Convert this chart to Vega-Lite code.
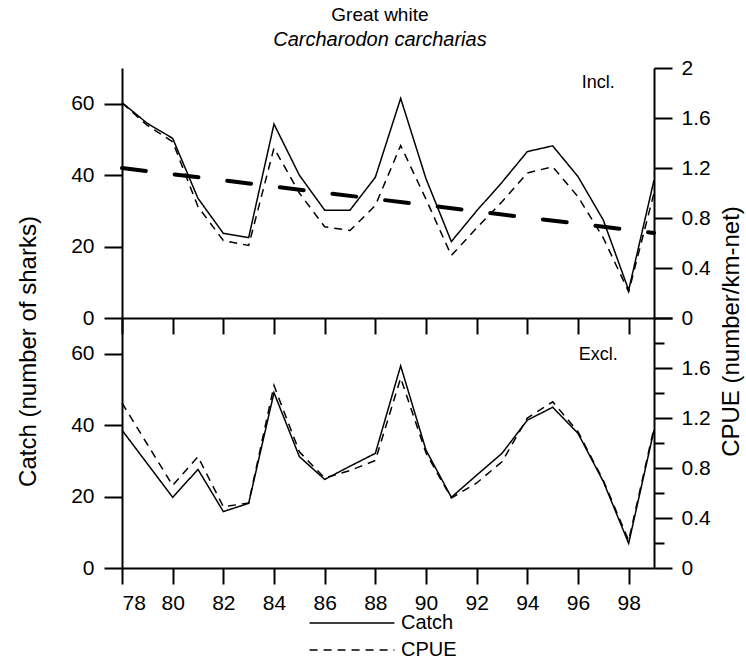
{
  "$schema": "https://vega.github.io/schema/vega-lite/v6.json",
  "background": "white",
  "padding": {"left": 16, "top": 6, "right": 2, "bottom": 2},
  "title": {
    "text": "Great white",
    "subtitle": "Carcharodon carcharias",
    "anchor": "middle",
    "font": "Liberation Sans",
    "fontSize": 19,
    "fontWeight": "normal",
    "color": "black",
    "subtitleFont": "Liberation Sans",
    "subtitleFontSize": 20,
    "subtitleFontStyle": "italic",
    "subtitleColor": "black",
    "subtitlePadding": 5,
    "offset": 7
  },
  "config": {
    "view": {"stroke": null},
    "font": "Liberation Sans",
    "axis": {
      "grid": false,
      "domainColor": "black",
      "domainWidth": 2,
      "tickColor": "black",
      "tickWidth": 2,
      "labelColor": "black",
      "labelFont": "Liberation Sans",
      "labelFontSize": 21,
      "titleFont": "Liberation Sans",
      "titleFontSize": 24,
      "titleFontWeight": "normal",
      "titleColor": "black"
    }
  },
  "datasets": {
    "incl": [
      {"year": 78, "catch": 60.3, "cpue": 1.72},
      {"year": 79, "catch": 54.5, "cpue": 1.54},
      {"year": 80, "catch": 50.3, "cpue": 1.41},
      {"year": 81, "catch": 33.5, "cpue": 0.89},
      {"year": 82, "catch": 23.7, "cpue": 0.62},
      {"year": 83, "catch": 22.5, "cpue": 0.58},
      {"year": 84, "catch": 54.3, "cpue": 1.36},
      {"year": 85, "catch": 40.0, "cpue": 1.0},
      {"year": 86, "catch": 30.2, "cpue": 0.73},
      {"year": 87, "catch": 30.2, "cpue": 0.70},
      {"year": 88, "catch": 39.4, "cpue": 0.90},
      {"year": 89, "catch": 61.5, "cpue": 1.38},
      {"year": 90, "catch": 39.0, "cpue": 0.95},
      {"year": 91, "catch": 21.4, "cpue": 0.50},
      {"year": 92, "catch": 30.0, "cpue": 0.72},
      {"year": 93, "catch": 38.0, "cpue": 0.93},
      {"year": 94, "catch": 46.6, "cpue": 1.16},
      {"year": 95, "catch": 48.2, "cpue": 1.21},
      {"year": 96, "catch": 39.6, "cpue": 0.97},
      {"year": 97, "catch": 27.4, "cpue": 0.64},
      {"year": 98, "catch": 7.8, "cpue": 0.21},
      {"year": 99, "catch": 38.6, "cpue": 1.0}
    ],
    "excl": [
      {"year": 78, "catch": 38.6, "cpue": 1.32},
      {"year": 79, "catch": 29.2, "cpue": 0.99},
      {"year": 80, "catch": 19.8, "cpue": 0.66},
      {"year": 81, "catch": 27.6, "cpue": 0.89},
      {"year": 82, "catch": 15.8, "cpue": 0.49},
      {"year": 83, "catch": 18.1, "cpue": 0.52},
      {"year": 84, "catch": 49.1, "cpue": 1.46},
      {"year": 85, "catch": 31.2, "cpue": 0.93},
      {"year": 86, "catch": 24.8, "cpue": 0.72},
      {"year": 87, "catch": 28.5, "cpue": 0.78},
      {"year": 88, "catch": 32.1, "cpue": 0.86},
      {"year": 89, "catch": 56.6, "cpue": 1.52},
      {"year": 90, "catch": 33.0, "cpue": 0.92},
      {"year": 91, "catch": 19.8, "cpue": 0.56},
      {"year": 92, "catch": 26.0, "cpue": 0.68},
      {"year": 93, "catch": 32.1, "cpue": 0.85},
      {"year": 94, "catch": 41.4, "cpue": 1.20},
      {"year": 95, "catch": 45.0, "cpue": 1.33},
      {"year": 96, "catch": 37.7, "cpue": 1.09},
      {"year": 97, "catch": 24.2, "cpue": 0.70},
      {"year": 98, "catch": 6.9, "cpue": 0.22},
      {"year": 99, "catch": 38.6, "cpue": 1.12}
    ],
    "trend": [
      {"year": 78, "cpue": 1.2},
      {"year": 99, "cpue": 0.68}
    ],
    "inclLabel": [{"label": "Incl."}],
    "exclLabel": [{"label": "Excl."}]
  },
  "spacing": 0,
  "bounds": "flush",
  "vconcat": [
    {
      "width": 532,
      "height": 250,
      "layer": [
        {
          "layer": [
            {
              "data": {"name": "incl"},
              "mark": {"type": "line", "stroke": "black", "strokeWidth": 1.5},
              "encoding": {
                "x": {
                  "field": "year", "type": "quantitative",
                  "scale": {"domain": [78, 99], "nice": false, "zero": false},
                  "axis": {
                    "orient": "bottom", "title": null, "labels": false,
                    "values": [78,79,80,81,82,83,84,85,86,87,88,89,90,91,92,93,94,95,96,97,98,99],
                    "tickSize": {"condition": {"test": "datum.value % 2 === 0", "value": 16}, "value": 8}
                  }
                },
                "y": {
                  "field": "catch", "type": "quantitative",
                  "scale": {"domain": [0, 70], "nice": false},
                  "axis": {
                    "orient": "left",
                    "values": [0,10,20,30,40,50,60,70],
                    "labelExpr": "datum.value % 20 === 0 ? datum.label : ''",
                    "tickSize": {"condition": {"test": "datum.value % 20 === 0", "value": 18}, "value": 8},
                    "labelPadding": 10,
                    "title": "Catch (number of sharks)",
                    "titleY": 283,
                    "titlePadding": 30
                  }
                },
                "strokeDash": {
                  "datum": "Catch", "type": "nominal",
                  "scale": {"domain": ["Catch", "CPUE"], "range": [[1, 0], [8, 6]]},
                  "legend": {
                    "orient": "none", "legendX": 220, "legendY": 545,
                    "title": null, "direction": "vertical", "padding": 0,
                    "symbolType": "M-9,0H9", "symbolSize": 89,
                    "symbolStrokeColor": "black", "symbolStrokeWidth": 1.5,
                    "labelFont": "Liberation Sans", "labelFontSize": 20, "labelColor": "black",
                    "labelOffset": 39, "rowPadding": 7
                  }
                }
              }
            },
            {
              "data": {"name": "inclLabel"},
              "mark": {"type": "text", "font": "Liberation Sans", "fontSize": 18, "color": "black"},
              "encoding": {
                "x": {"datum": 96.8, "type": "quantitative"},
                "y": {"datum": 65.8, "type": "quantitative"},
                "text": {"field": "label"}
              }
            }
          ]
        },
        {
          "layer": [
            {
              "data": {"name": "incl"},
              "mark": {"type": "line", "stroke": "black", "strokeWidth": 1.5},
              "encoding": {
                "x": {"field": "year", "type": "quantitative"},
                "y": {
                  "field": "cpue", "type": "quantitative",
                  "scale": {"domain": [0, 2], "nice": false},
                  "axis": {
                    "orient": "right",
                    "values": [0,0.2,0.4,0.6,0.8,1,1.2,1.4,1.6,1.8,2],
                    "format": "~g",
                    "labelExpr": "round(datum.value * 10) % 4 === 0 ? datum.label : ''",
                    "tickSize": {"condition": {"test": "round(datum.value * 10) % 4 === 0", "value": 18}, "value": 10},
                    "labelPadding": 9,
                    "title": "CPUE (number/km-net)",
                    "titleAngle": 270,
                    "titleBaseline": "top",
                    "titleY": 263,
                    "titlePadding": 9
                  }
                },
                "strokeDash": {"datum": "CPUE", "type": "nominal"}
              }
            },
            {
              "data": {"name": "trend"},
              "mark": {"type": "line", "stroke": "black", "strokeWidth": 4, "strokeCap": "round", "strokeDash": [24, 29]},
              "encoding": {
                "x": {"field": "year", "type": "quantitative"},
                "y": {"field": "cpue", "type": "quantitative"}
              }
            }
          ]
        }
      ],
      "resolve": {"scale": {"y": "independent"}}
    },
    {
      "width": 532,
      "height": 250,
      "layer": [
        {
          "layer": [
            {
              "data": {"name": "excl"},
              "mark": {"type": "line", "stroke": "black", "strokeWidth": 1.5},
              "encoding": {
                "x": {
                  "field": "year", "type": "quantitative",
                  "scale": {"domain": [78, 99], "nice": false, "zero": false},
                  "axis": {
                    "orient": "bottom", "title": null,
                    "values": [78,79,80,81,82,83,84,85,86,87,88,89,90,91,92,93,94,95,96,97,98,99],
                    "labelExpr": "datum.value % 2 === 0 ? datum.label : ''",
                    "tickSize": {"condition": {"test": "datum.value % 2 === 0", "value": 16}, "value": 8},
                    "labelPadding": 8
                  }
                },
                "y": {
                  "field": "catch", "type": "quantitative",
                  "scale": {"domain": [0, 70], "nice": false},
                  "axis": {
                    "orient": "left",
                    "values": [0,10,20,30,40,50,60,70],
                    "labelExpr": "datum.value % 20 === 0 ? datum.label : ''",
                    "tickSize": {"condition": {"test": "datum.value % 20 === 0", "value": 18}, "value": 8},
                    "labelPadding": 10,
                    "title": null
                  }
                },
                "strokeDash": {"datum": "Catch", "type": "nominal"}
              }
            },
            {
              "data": {"name": "exclLabel"},
              "mark": {"type": "text", "font": "Liberation Sans", "fontSize": 18, "color": "black"},
              "encoding": {
                "x": {"datum": 96.8, "type": "quantitative"},
                "y": {"datum": 59.6, "type": "quantitative"},
                "text": {"field": "label"}
              }
            }
          ]
        },
        {
          "layer": [
            {
              "data": {"name": "excl"},
              "mark": {"type": "line", "stroke": "black", "strokeWidth": 1.5},
              "encoding": {
                "x": {"field": "year", "type": "quantitative"},
                "y": {
                  "field": "cpue", "type": "quantitative",
                  "scale": {"domain": [0, 2], "nice": false},
                  "axis": {
                    "orient": "right",
                    "values": [0,0.2,0.4,0.6,0.8,1,1.2,1.4,1.6,1.8,2],
                    "format": "~g",
                    "labelExpr": "round(datum.value * 10) % 4 === 0 && datum.value < 1.9 ? datum.label : ''",
                    "tickSize": {"condition": {"test": "round(datum.value * 10) % 4 === 0", "value": 18}, "value": 10},
                    "labelPadding": 9,
                    "title": null
                  }
                },
                "strokeDash": {"datum": "CPUE", "type": "nominal"}
              }
            }
          ]
        }
      ],
      "resolve": {"scale": {"y": "independent"}}
    }
  ]
}
